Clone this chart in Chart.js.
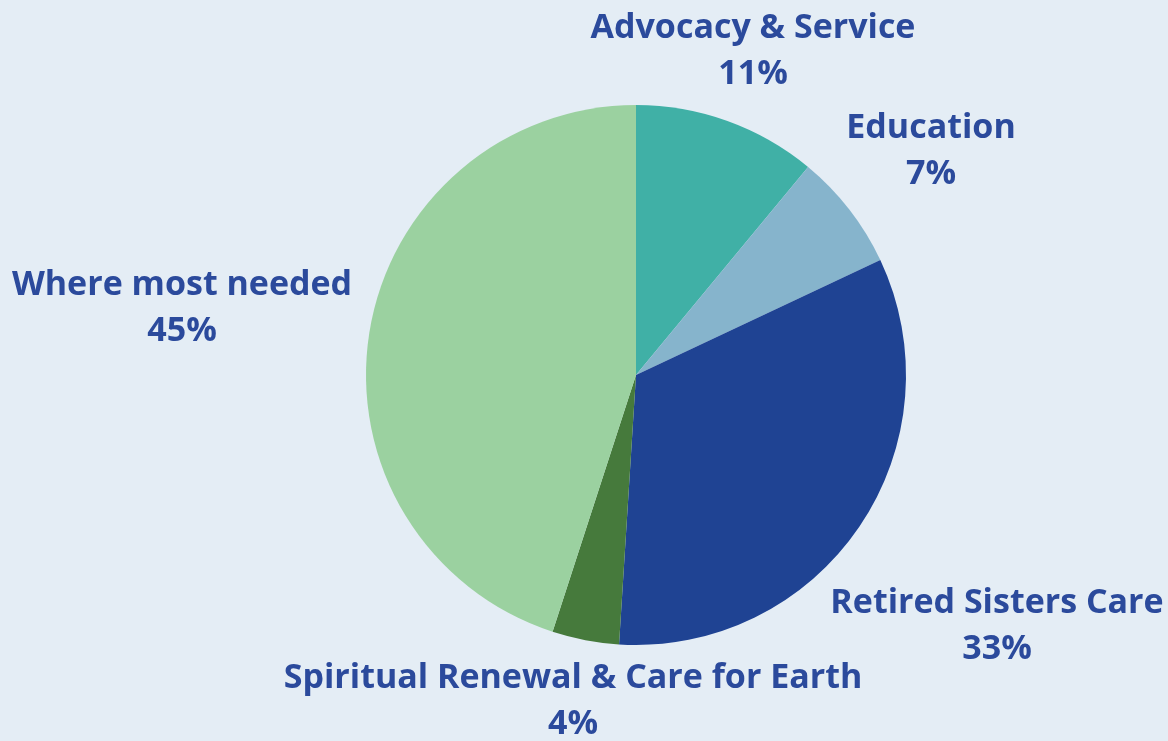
<!DOCTYPE html>
<html>
<head>
<meta charset="utf-8">
<script src="https://cdn.jsdelivr.net/npm/chart.js@4/dist/chart.umd.min.js"></script>
<style>
  html, body { margin: 0; padding: 0; background: #e4edf5; }
  #wrap { width: 1168px; height: 741px; position: relative; }
</style>
</head>
<body>
<div id="wrap"><canvas id="c" width="1168" height="741"></canvas></div>
<script>
const categories = ["Advocacy & Service", "Education", "Retired Sisters Care", "Spiritual Renewal & Care for Earth", "Where most needed"];
const values = [11, 7, 33, 4, 45];
const percentLabels = ["11%", "7%", "33%", "4%", "45%"];
const colors = ["#40b0a6", "#86b4cc", "#1f4393", "#467a3c", "#9bd1a0"];
// label offsets from pie center (dx, dy) for the name line
const labelOffsets = [[117, -347], [295, -247], [361, 228], [-63, 303], [-454, -90]];

const labelPlugin = {
  id: 'sliceLabels',
  afterDatasetsDraw(chart) {
    const ctx = chart.ctx;
    const arc = chart.getDatasetMeta(0).data[0];
    const cx = arc.x, cy = arc.y;
    ctx.save();
    ctx.fillStyle = '#2b4a9c';
    ctx.textAlign = 'center';
    ctx.textBaseline = 'middle';
    ctx.font = 'bold 34px "Open Sans", sans-serif';
    categories.forEach((name, i) => {
      const [dx, dy] = labelOffsets[i];
      ctx.fillText(name, cx + dx, cy + dy);
      ctx.fillText(percentLabels[i], cx + dx, cy + dy + 46);
    });
    ctx.restore();
  }
};

new Chart(document.getElementById('c'), {
  type: 'pie',
  data: {
    labels: categories,
    datasets: [{ data: values, backgroundColor: colors, borderWidth: 0 }]
  },
  options: {
    responsive: false,
    animation: false,
    layout: { padding: { left: 366, right: 262, top: 105, bottom: 96 } },
    plugins: { legend: { display: false }, tooltip: { enabled: false } }
  },
  plugins: [labelPlugin]
});
</script>
</body>
</html>
